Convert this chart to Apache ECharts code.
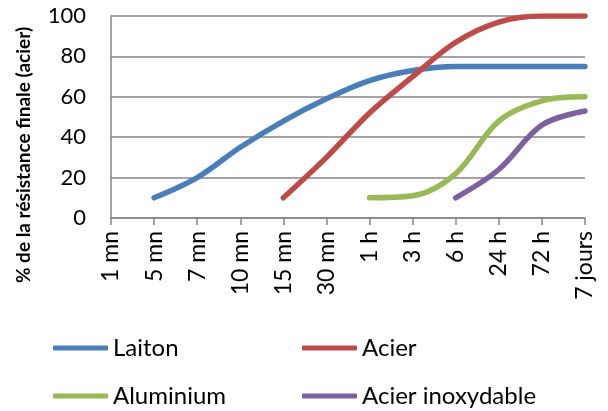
<!DOCTYPE html>
<html><head><meta charset="utf-8">
<script src="https://cdn.jsdelivr.net/npm/echarts@6/dist/echarts.min.js"></script>
<style>html,body{margin:0;padding:0;background:#fff}#c{width:608px;height:411px}</style>
</head><body><div id="c"></div>
<script>
const categories = ['1 mn','5 mn','7 mn','10 mn','15 mn','30 mn','1 h','3 h','6 h','24 h','72 h','7 jours'];
const laiton = [null,10,20,35,48,59,68,73,75,75,75,75];
const acier = [null,null,null,null,10,30,52,70,87,97,100,100];
const aluminium = [null,null,null,null,null,null,10,11,22,48,58,60];
const acierInox = [null,null,null,null,null,null,null,null,10,24,46,53];
const yTicks = [0,20,40,60,80,100];

const FONT = 'Lato, "Open Sans", sans-serif';
const chart = echarts.init(document.getElementById('c'), null, {renderer:'canvas'});
function mk(name, data, color){
  return {name, type:'line', data, smooth:0.35, symbol:'none', connectNulls:false,
    lineStyle:{width:5.5, color, cap:'round'}, itemStyle:{color}};
}
function leg(name, left, top){
  return {data:[name], left, top, padding:0, itemWidth:55, itemHeight:5, itemGap:0,
    icon:'roundRect', textStyle:{fontFamily:FONT, fontSize:24, color:'#000'}};
}
chart.setOption({
  animation:false,
  grid:{left:111, right:23, top:16, bottom:193, containLabel:false},
  legend:[leg('Laiton',53,336), leg('Acier',302,336), leg('Aluminium',53,384), leg('Acier inoxydable',302,384)],
  xAxis:{type:'category', data:categories, boundaryGap:false,
    axisLine:{lineStyle:{color:'#868686', width:1.5}},
    axisTick:{show:true, length:7, lineStyle:{color:'#868686', width:1.5}},
    axisLabel:{rotate:90, fontFamily:FONT, fontSize:23, color:'#000', margin:13, interval:0}},
  yAxis:{type:'value', min:0, max:100, interval:20,
    name:'% de la résistance finale (acier)', nameLocation:'middle', nameGap:78, nameRotate:90,
    nameTextStyle:{fontFamily:FONT, fontSize:19, fontWeight:'bold', color:'#000', padding:[0,76,0,0]},
    axisLine:{show:true, lineStyle:{color:'#868686', width:1.5}},
    axisTick:{show:false},
    splitLine:{lineStyle:{color:'#868686', width:1.5}},
    axisLabel:{fontFamily:FONT, fontSize:22, color:'#000', margin:25,
      formatter:v=>yTicks.includes(v)?String(v):''}},
  series:[mk('Laiton',laiton,'#4A7EBB'), mk('Acier',acier,'#BE4B48'),
    mk('Aluminium',aluminium,'#98B954'), mk('Acier inoxydable',acierInox,'#7D60A0')]
});
</script></body></html>
